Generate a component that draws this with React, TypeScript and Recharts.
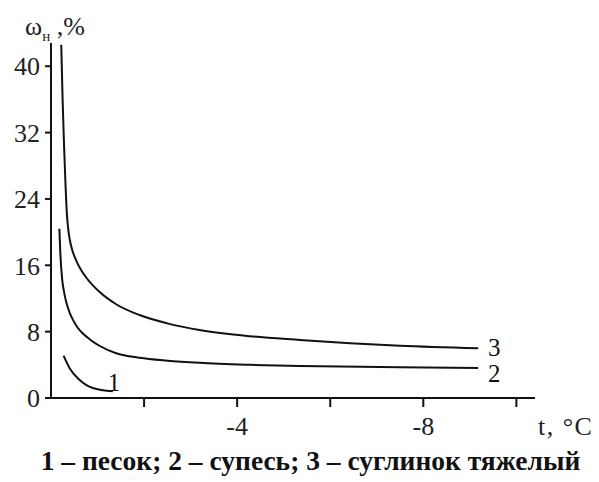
import { LineChart, Line, XAxis, YAxis } from "recharts";

// t, °C (magnitude of negative temperature) and unfrozen water content ω, %
const sandT = [0.27, 0.4, 0.61, 0.9, 1.33];
const sandW = [5.1, 3.6, 2.2, 1.2, 0.8];

const loamT = [0.18, 0.2, 0.24, 0.28, 0.33, 0.4, 0.47, 0.57, 0.68, 0.85, 1.04, 1.4, 1.9, 2.5, 3.19, 4.27, 5.35, 7.5, 9.18];
const loamW = [20.4, 17.5, 14.3, 12.8, 11.5, 10.3, 9.45, 8.5, 7.8, 7.0, 6.3, 5.4, 4.85, 4.5, 4.24, 4.0, 3.85, 3.7, 3.63];

const clayT = [0.22, 0.25, 0.28, 0.31, 0.34, 0.37, 0.4, 0.47, 0.54, 0.65, 0.76, 1.04, 1.4, 1.9, 2.5, 3.19, 4.27, 5.35, 6.43, 7.5, 9.18];
const clayW = [42.6, 35.9, 30.5, 26.0, 22.3, 20.4, 19.2, 17.6, 16.6, 15.4, 14.5, 12.8, 11.3, 10.0, 9.0, 8.2, 7.45, 7.0, 6.6, 6.3, 6.0];

const xTicks = [2, 4, 6, 8, 10];
const xLabeled = [4, 8];
const yTicks = [0, 8, 16, 24, 32, 40];

const toRows = (ts: number[], ws: number[]) => ts.map((t, i) => ({ t, w: ws[i] }));
const sand = toRows(sandT, sandW);
const loam = toRows(loamT, loamW);
const clay = toRows(clayT, clayW);

const serif = "'Liberation Serif', 'Times New Roman', serif";

const endLabel = (text: string, n: number, dx: number, dy: number) => (p: any) => {
  if (p.index !== n - 1) return null;
  return (
    <text key={text} x={p.x + dx} y={p.y + dy} fontFamily={serif} fontSize={25} fill="#111" textAnchor="middle">
      {text}
    </text>
  );
};

export default function App() {
  return (
    <div style={{ position: "absolute", left: 0, top: 0, width: 599, height: 482, background: "#fff" }}>
      <LineChart width={599} height={482} margin={{ top: 43, right: 64, left: 6, bottom: 54 }}>
        <XAxis
          type="number"
          dataKey="t"
          domain={[0, 10.4]}
          ticks={xTicks}
          tickFormatter={(v: number) => (xLabeled.includes(v) ? `-${v}` : "")}
          axisLine={{ stroke: "#111", strokeWidth: 2 }}
          tickLine={{ stroke: "#111", strokeWidth: 2 }}
          tickSize={9}
          tickMargin={10}
          height={30}
          tick={{ fontFamily: serif, fontSize: 26, fill: "#222" }}
        />
        <YAxis
          type="number"
          domain={[0, 42.8]}
          ticks={yTicks}
          axisLine={{ stroke: "#111", strokeWidth: 2 }}
          tickLine={{ stroke: "#111", strokeWidth: 2 }}
          tickSize={6}
          tickMargin={5}
          width={45}
          tick={{ fontFamily: serif, fontSize: 26, fill: "#222" }}
        />
        <Line data={sand} dataKey="w" type="monotone" stroke="#111" strokeWidth={2} dot={false}
          isAnimationActive={false} label={endLabel("1", sand.length, 1, 0)} />
        <Line data={loam} dataKey="w" type="monotone" stroke="#111" strokeWidth={2} dot={false}
          isAnimationActive={false} label={endLabel("2", loam.length, 16, 14)} />
        <Line data={clay} dataKey="w" type="monotone" stroke="#111" strokeWidth={2} dot={false}
          isAnimationActive={false} label={endLabel("3", clay.length, 16, 8)} />
      </LineChart>
      <div style={{ position: "absolute", left: 25, top: 12, fontFamily: serif, fontSize: 26, color: "#222" }}>
        ω<sub style={{ fontSize: 15 }}>н</sub> ,%
      </div>
      <div style={{ position: "absolute", left: 538, top: 412, fontFamily: serif, fontSize: 26, letterSpacing: 1.5, color: "#222" }}>
        t, °C
      </div>
      <div style={{ position: "absolute", left: 0, width: 621, top: 445, textAlign: "center", fontFamily: serif, fontSize: 27.5, fontWeight: "bold", color: "#111", whiteSpace: "nowrap" }}>
        1 – песок; 2 – супесь; 3 – суглинок тяжелый
      </div>
    </div>
  );
}
